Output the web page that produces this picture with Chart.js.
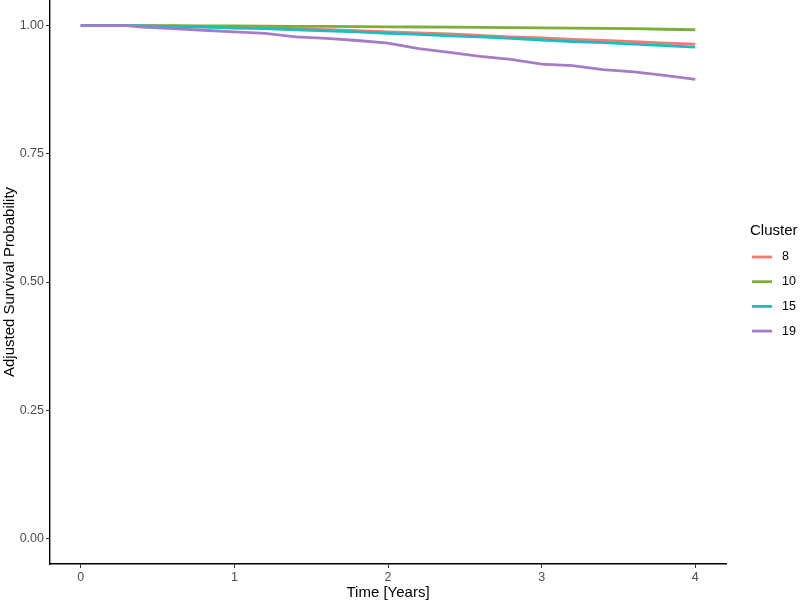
<!DOCTYPE html>
<html>
<head>
<meta charset="utf-8">
<script src="https://cdn.jsdelivr.net/npm/chart.js@4"></script>
<style>
  html, body { margin: 0; padding: 0; background: #fff; }
  #wrap { width: 800px; height: 602px; position: relative; }
</style>
</head>
<body>
<div id="wrap"><canvas id="survivalChart"></canvas></div>
<script>
// time points (years)
const times = [0, 0.3, 0.4, 0.6, 0.8, 1.0, 1.2, 1.4, 1.6, 1.8, 2.0, 2.2, 2.4, 2.6, 2.8, 3.0, 3.2, 3.4, 3.6, 3.8, 4.0];

// adjusted survival per cluster
const cluster8  = [1, 1, 0.9997, 0.999, 0.998, 0.997, 0.996, 0.994, 0.992, 0.990, 0.988, 0.986, 0.984, 0.981, 0.978, 0.976, 0.973, 0.971, 0.969, 0.966, 0.964];
const cluster10 = [1, 1, 1, 0.9998, 0.9996, 0.9993, 0.999, 0.9987, 0.9985, 0.998, 0.9977, 0.9973, 0.997, 0.9965, 0.996, 0.9955, 0.995, 0.9945, 0.994, 0.993, 0.992];
const cluster15 = [1, 1, 0.9995, 0.998, 0.997, 0.995, 0.994, 0.992, 0.990, 0.988, 0.985, 0.983, 0.980, 0.978, 0.975, 0.972, 0.969, 0.967, 0.964, 0.961, 0.958];
const cluster19 = [1, 1, 0.997, 0.994, 0.991, 0.988, 0.985, 0.978, 0.975, 0.971, 0.966, 0.955, 0.948, 0.940, 0.934, 0.925, 0.922, 0.914, 0.910, 0.903, 0.895];

const clusterNames = ['8', '10', '15', '19'];
const clusterColors = ['#F27A70', '#7CAE3A', '#1DBCC2', '#A67CC6'];
const xTicks = [0, 1, 2, 3, 4];
const yTicks = [0, 0.25, 0.5, 0.75, 1];

const FONT = '"Liberation Sans", Arial, sans-serif';

function toPoints(vals) {
  return times.map((t, i) => ({ x: t, y: vals[i] }));
}

const seriesVals = [cluster8, cluster10, cluster15, cluster19];
// later clusters sit on top, like the original
const datasets = seriesVals.map((vals, i) => ({
  label: clusterNames[i],
  data: toPoints(vals),
  borderColor: clusterColors[i],
  backgroundColor: clusterColors[i],
  borderWidth: 2.8,
  pointRadius: 0,
  tension: 0,
  fill: false,
  order: seriesVals.length - i
}));

// ggplot-style legend drawn on the right
const sideLegend = {
  id: 'sideLegend',
  afterDraw(chart) {
    const ctx = chart.ctx;
    ctx.save();
    ctx.fillStyle = '#000';
    ctx.textBaseline = 'middle';
    ctx.textAlign = 'left';
    ctx.font = '15px ' + FONT;
    ctx.fillText('Cluster', 750, 231);
    ctx.font = '12.5px ' + FONT;
    chart.data.datasets.forEach((ds, i) => {
      const y = 257 + i * 24.7;
      ctx.strokeStyle = ds.borderColor;
      ctx.lineWidth = 2.8;
      ctx.beginPath();
      ctx.moveTo(752, y);
      ctx.lineTo(772, y);
      ctx.stroke();
      ctx.fillStyle = '#000';
      ctx.fillText(ds.label, 782, y);
    });
    ctx.restore();
  }
};

new Chart(document.getElementById('survivalChart'), {
  type: 'line',
  data: { datasets: datasets },
  plugins: [sideLegend],
  options: {
    responsive: true,
    maintainAspectRatio: false,
    animation: false,
    layout: { padding: { top: 0, right: 74, bottom: 0, left: 0 } },
    plugins: {
      legend: { display: false },
      tooltip: { enabled: false }
    },
    scales: {
      x: {
        type: 'linear',
        min: -0.2,
        max: 4.2,
        afterBuildTicks: s => { s.ticks = xTicks.map(v => ({ value: v })); },
        afterFit: s => { s.height = 38; s.paddingLeft = 0; s.paddingRight = 0; },
        grid: { display: true, drawOnChartArea: false, drawTicks: true, tickLength: 4, color: '#333', lineWidth: 1 },
        border: { display: true, color: '#000', width: 1.4 },
        ticks: { color: '#4D4D4D', font: { family: FONT, size: 12.5 }, padding: 2, maxRotation: 0 },
        title: { display: true, text: 'Time [Years]', color: '#000', font: { family: FONT, size: 15 }, padding: { top: 0, bottom: 0 } }
      },
      y: {
        min: -0.05,
        max: 1.05,
        afterBuildTicks: s => { s.ticks = yTicks.map(v => ({ value: v })); },
        afterFit: s => { s.width = 50; s.paddingTop = 0; s.paddingBottom = 0; },
        grid: { display: true, drawOnChartArea: false, drawTicks: true, tickLength: 4, color: '#333', lineWidth: 1 },
        border: { display: true, color: '#000', width: 1.4 },
        ticks: { color: '#4D4D4D', font: { family: FONT, size: 12.5 }, padding: 2, callback: v => Number(v).toFixed(2) },
        title: { display: true, text: 'Adjusted Survival Probability', color: '#000', font: { family: FONT, size: 15 }, padding: { top: 1, bottom: 2 } }
      }
    }
  }
});
</script>
</body>
</html>
